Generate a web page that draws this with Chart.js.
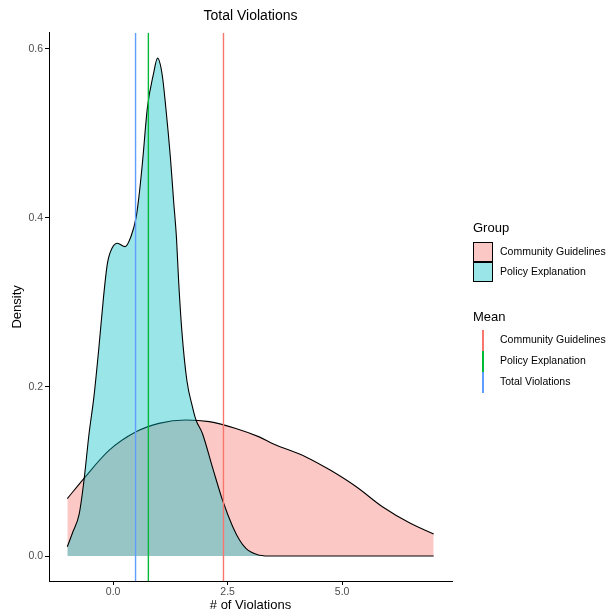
<!DOCTYPE html>
<html>
<head>
<meta charset="utf-8">
<script src="https://cdn.jsdelivr.net/npm/chart.js@4/dist/chart.umd.min.js"></script>
<style>
  body { margin: 0; background: #fff; }
  #wrap { position: relative; width: 608px; height: 613px; }
  #legend { position: absolute; left: 473px; top: 0; font-family: "Liberation Sans", Arial, sans-serif; color: #000; }
  .ltitle { position: absolute; left: 0; font-size: 13px; white-space: nowrap; }
  .lrow { position: absolute; left: 0; height: 20px; width: 140px; }
  .swatch { position: absolute; left: 0; top: 0; width: 18px; height: 18px; border: 1px solid #000; }
  .vline { position: absolute; left: 9px; top: 0; width: 2px; height: 21px; }
  .ltext { position: absolute; left: 27px; top: 3px; font-size: 10.5px; white-space: nowrap; }
</style>
</head>
<body>
<div id="wrap">
  <canvas id="myChart" width="608" height="613"></canvas>
  <div id="legend"></div>
</div>
<script>
// ===== DATA =====
const groupLabels = ["Community Guidelines", "Policy Explanation"];
const meanLabels = ["Community Guidelines", "Policy Explanation", "Total Violations"];
const meanValues = [2.41, 0.77, 0.49];

// Community Guidelines density
const cgX = [-1.0, -0.635, -0.09, 0.5, 1.0, 1.59, 2.1, 2.68, 3.19, 3.49, 4.22, 4.73, 5.31, 5.89, 6.48, 7.0];
const cgY = [0.068, 0.092, 0.125, 0.147, 0.157, 0.161, 0.159, 0.151, 0.141, 0.133, 0.117, 0.102, 0.082, 0.058, 0.039, 0.026];

// Policy Explanation density
const peX = [-1.0, -0.89, -0.74, -0.635, -0.525, -0.42, -0.31, -0.21, -0.125, -0.015, 0.095, 0.26, 0.39, 0.5, 0.555, 0.64, 0.75, 0.88, 0.97, 1.07, 1.15, 1.25, 1.32, 1.385, 1.43, 1.5, 1.61, 1.735, 1.81, 1.95, 2.17, 2.39, 2.61, 2.76, 2.9, 3.0, 3.19, 3.5, 4.0, 5.0, 6.0, 7.0];
const peY = [0.011, 0.027, 0.050, 0.090, 0.145, 0.188, 0.247, 0.306, 0.346, 0.365, 0.370, 0.366, 0.378, 0.400, 0.421, 0.465, 0.531, 0.570, 0.589, 0.570, 0.531, 0.472, 0.421, 0.375, 0.326, 0.267, 0.208, 0.176, 0.161, 0.145, 0.105, 0.066, 0.035, 0.019, 0.009, 0.005, 0.001, 0, 0, 0, 0, 0];

const xTicks = [0, 2.5, 5.0];
const yTicks = [0, 0.2, 0.4, 0.6];
const xLimits = [-1.4, 7.4];
const yLimits = [-0.0295, 0.619];

// ggplot hue palette
const fillColors = ["rgba(248,118,109,0.4)", "rgba(0,191,196,0.4)"];
const meanColors = ["#F8766D", "#00BA38", "#619CFF"];

const FONT = '"Liberation Sans", Arial, sans-serif';
Chart.defaults.font.family = FONT;

function toPoints(xs, ys) {
    return xs.map((x, i) => ({ x: x, y: ys[i] }));
}

let datasets = [
    {
        label: groupLabels[0],
        data: toPoints(cgX, cgY),
        borderColor: "#000",
        borderWidth: 1.1,
        backgroundColor: fillColors[0],
        fill: "origin",
        pointRadius: 0,
        cubicInterpolationMode: "monotone",
        order: 3
    },
    {
        label: groupLabels[1],
        data: toPoints(peX, peY),
        borderColor: "#000",
        borderWidth: 1.1,
        backgroundColor: fillColors[1],
        fill: "origin",
        pointRadius: 0,
        cubicInterpolationMode: "monotone",
        order: 2
    }
];

// vertical mean lines, full panel height
meanValues.forEach((m, i) => {
    datasets.push({
        label: "Mean " + meanLabels[i],
        data: [{ x: m, y: yLimits[0] }, { x: m, y: yLimits[1] }],
        borderColor: meanColors[i],
        borderWidth: 1.4,
        pointRadius: 0,
        fill: false,
        order: 1
    });
});

const ctx = document.getElementById("myChart").getContext("2d");
new Chart(ctx, {
    type: "line",
    data: { datasets: datasets },
    options: {
        responsive: false,
        animation: false,
        layout: { padding: { left: 0, right: 156, top: 0, bottom: 0 } },
        plugins: {
            legend: { display: false },
            tooltip: { enabled: false },
            title: {
                display: true,
                text: "Total Violations",
                color: "#000",
                fullSize: false,
                font: { size: 14, weight: "normal" },
                padding: { top: 8, bottom: 8 }
            }
        },
        scales: {
            x: {
                type: "linear",
                min: xLimits[0],
                max: xLimits[1],
                afterBuildTicks: axis => { axis.ticks = xTicks.map(v => ({ value: v })); },
                afterFit: scale => { scale.height = 32; },
                ticks: {
                    color: "#4D4D4D",
                    font: { size: 10.5 },
                    padding: 1,
                    maxRotation: 0,
                    callback: v => v.toFixed(1)
                },
                grid: { drawOnChartArea: false, drawTicks: true, tickLength: 4, color: "#000" },
                border: { display: true, color: "#000", width: 1 },
                title: { display: true, text: "# of Violations", color: "#000", font: { size: 13 }, padding: { top: 0, bottom: 0 } }
            },
            y: {
                type: "linear",
                min: yLimits[0],
                max: yLimits[1],
                afterBuildTicks: axis => { axis.ticks = yTicks.map(v => ({ value: v })); },
                afterFit: scale => { scale.width = 49; },
                ticks: {
                    color: "#4D4D4D",
                    font: { size: 10.5 },
                    padding: 2,
                    callback: v => v.toFixed(1)
                },
                grid: { drawOnChartArea: false, drawTicks: true, tickLength: 4, color: "#000" },
                border: { display: true, color: "#000", width: 1 },
                title: { display: true, text: "Density", color: "#000", font: { size: 13 }, padding: { top: 10, bottom: 0 } }
            }
        }
    }
});

// =============== LEGEND (HTML) ===============
function buildLegend() {
    const box = document.getElementById("legend");
    let html = '<div class="ltitle" style="top:220px">Group</div>';
    groupLabels.forEach((lab, i) => {
        html += '<div class="lrow" style="top:' + (242 + i * 20) + 'px">' +
            '<div class="swatch" style="background:' + fillColors[i] + '"></div>' +
            '<div class="ltext">' + lab + '</div></div>';
    });
    html += '<div class="ltitle" style="top:309px">Mean</div>';
    meanLabels.forEach((lab, i) => {
        html += '<div class="lrow" style="top:' + (330 + i * 21) + 'px">' +
            '<div class="vline" style="background:' + meanColors[i] + '"></div>' +
            '<div class="ltext">' + lab + '</div></div>';
    });
    box.innerHTML = html;
}
buildLegend();
</script>
</body>
</html>
